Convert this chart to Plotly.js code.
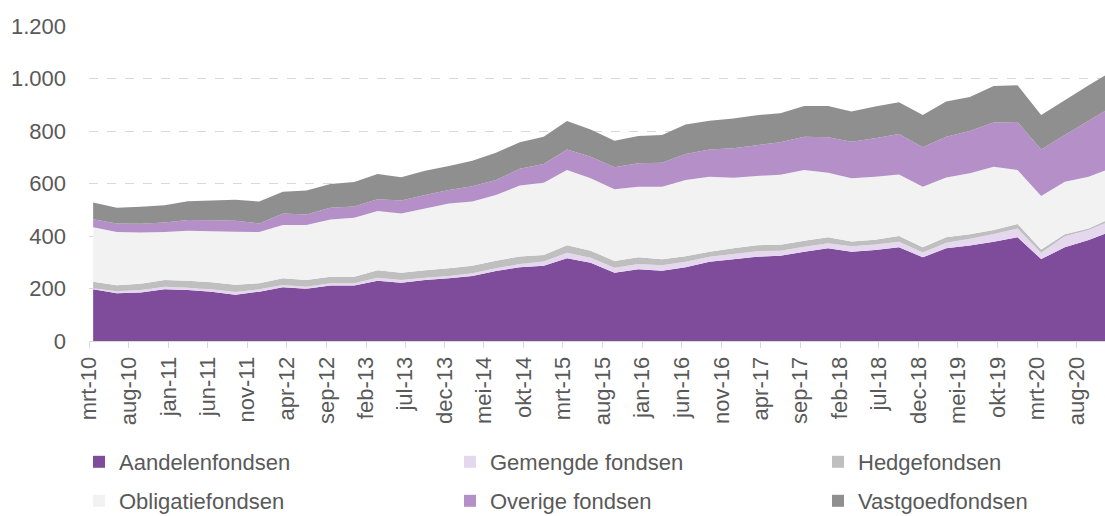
<!DOCTYPE html>
<html>
<head>
<meta charset="utf-8">
<script src="https://cdn.plot.ly/plotly-3.0.1.min.js"></script>
<style>html,body{margin:0;padding:0;background:#fff;}#chart{width:1105px;height:516px;}</style>
</head>
<body>
<div id="chart"></div>
<script>
// Quarter-end dates (mrt-10 .. dec-20)
const quarters = [
  '2010-03-31','2010-06-30','2010-09-30','2010-12-31',
  '2011-03-31','2011-06-30','2011-09-30','2011-12-31',
  '2012-03-31','2012-06-30','2012-09-30','2012-12-31',
  '2013-03-31','2013-06-30','2013-09-30','2013-12-31',
  '2014-03-31','2014-06-30','2014-09-30','2014-12-31',
  '2015-03-31','2015-06-30','2015-09-30','2015-12-31',
  '2016-03-31','2016-06-30','2016-09-30','2016-12-31',
  '2017-03-31','2017-06-30','2017-09-30','2017-12-31',
  '2018-03-31','2018-06-30','2018-09-30','2018-12-31',
  '2019-03-31','2019-06-30','2019-09-30','2019-12-31',
  '2020-03-31','2020-06-30','2020-09-30','2020-12-31'
];

// Series values
const aandelenfondsen = [197,182,185,197,194,188,176,188,205,199,211,211,230,222,232,239,248,267,281,287,315,298,260,273,268,281,302,311,321,325,340,353,340,347,357,319,353,364,378,395,312,357,385,419];
const gemengdeFondsen = [4,8,9,10,9,9,11,9,8,8,9,9,11,10,9,9,10,10,12,16,21,19,19,20,21,21,19,20,21,19,19,19,21,21,21,18,21,26,30,34,24,42,38,42];
const hedgefondsen    = [25,22,24,25,27,27,27,23,26,25,25,25,29,28,29,29,29,29,29,25,29,27,26,26,22,21,19,22,23,23,23,23,18,18,22,20,21,17,15,17,13,8,6,9];
const obligatiefondsen= [207,203,195,183,190,194,202,195,203,210,218,225,225,226,235,247,244,250,270,275,286,276,273,269,277,290,286,269,264,266,269,246,241,240,234,231,228,232,241,205,203,200,197,190];
const overigeFondsen  = [31,33,34,36,41,42,42,33,44,40,45,42,45,49,51,51,59,57,64,71,79,82,84,89,91,99,104,112,117,124,127,135,139,146,155,150,155,161,168,183,178,178,213,233];
const vastgoedfondsen = [64,60,64,66,71,75,80,83,83,91,90,94,96,89,93,92,97,104,101,104,108,104,101,104,106,113,109,114,114,111,117,119,115,121,121,123,134,130,139,140,131,132,135,136];

// Axis tick labels (every five months)
const tickLabels = ['mrt-10','aug-10','jan-11','jun-11','nov-11','apr-12','sep-12','feb-13','jul-13','dec-13','mei-14','okt-14','mrt-15','aug-15','jan-16','jun-16','nov-16','apr-17','sep-17','feb-18','jul-18','dec-18','mei-19','okt-19','mrt-20','aug-20'];
const yTicks = [0,200,400,600,800,1000,1200];

const monthMap = {jan:'01',feb:'02',mrt:'03',apr:'04',mei:'05',jun:'06',jul:'07',aug:'08',sep:'09',okt:'10',nov:'11',dec:'12'};
const tickVals = tickLabels.map(l => { const [m, y] = l.split('-'); return '20' + y + '-' + monthMap[m] + '-15'; });

const series = [
  {name:'Aandelenfondsen', y:aandelenfondsen, color:'#7F4C9C'},
  {name:'Gemengde fondsen', y:gemengdeFondsen, color:'#E5D8EE'},
  {name:'Hedgefondsen', y:hedgefondsen, color:'#BFBFBF'},
  {name:'Obligatiefondsen', y:obligatiefondsen, color:'#F2F2F2'},
  {name:'Overige fondsen', y:overigeFondsen, color:'#B48FC8'},
  {name:'Vastgoedfondsen', y:vastgoedfondsen, color:'#8F8F8F'}
];

const font = "'Liberation Sans', Arial, sans-serif";
const fs = 22;
const legendIds = ['legend','legend2','legend3','legend4','legend5','legend6'];
const legendX = [79, 450, 818, 79, 450, 818];
const legendY = [462, 462, 462, 501, 501, 501];

const traces = [];
series.forEach(s => {
  traces.push({
    type:'scatter', x:quarters, y:s.y, name:s.name, stackgroup:'one',
    mode:'none', fillcolor:s.color, line:{width:0}, showlegend:false, hoverinfo:'skip'
  });
});
// legend entries (one legend box per entry)
series.forEach((s, i) => {
  traces.push({
    type:'scatter', x:[null], y:[null], name:s.name, mode:'markers',
    marker:{symbol:'square', size:12, color:s.color}, legend:legendIds[i], showlegend:true
  });
});

const layout = {
  width:1105, height:516,
  margin:{l:89, r:0, t:26, b:175},
  paper_bgcolor:'#ffffff', plot_bgcolor:'#ffffff',
  separators:',.',
  font:{family:font, size:fs, color:'#595959'},
  xaxis:{
    type:'date', range:['2010-03-15','2020-12-02'],
    tickmode:'array', tickvals:tickVals, ticktext:tickLabels, tickangle:-90,
    showgrid:false, zeroline:false, showline:true, linecolor:'#D9D9D9', linewidth:1,
    ticks:'outside', ticklen:6, tickcolor:'#D9D9D9', tickwidth:1,
    tickfont:{family:font, size:fs, color:'#595959'}
  },
  yaxis:{
    range:[0,1200], tickmode:'array', tickvals:yTicks, tickformat:',d',
    showgrid:true, gridcolor:'#D9D9D9', griddash:'dash', gridwidth:1,
    zeroline:false, showline:false, ticks:'', ticklabelstandoff:22,
    tickfont:{family:font, size:fs, color:'#595959'}
  },
  showlegend:true
};
legendIds.forEach((id, i) => {
  layout[id] = {
    orientation:'h', xref:'container', yref:'container', xanchor:'left', yanchor:'middle',
    x:legendX[i]/1105, y:(516-legendY[i])/516,
    font:{family:font, size:fs, color:'#595959'},
    bgcolor:'rgba(0,0,0,0)', borderwidth:0, itemclick:false
  };
});

Plotly.newPlot('chart', traces, layout, {displayModeBar:false, staticPlot:true});
</script>
</body>
</html>
